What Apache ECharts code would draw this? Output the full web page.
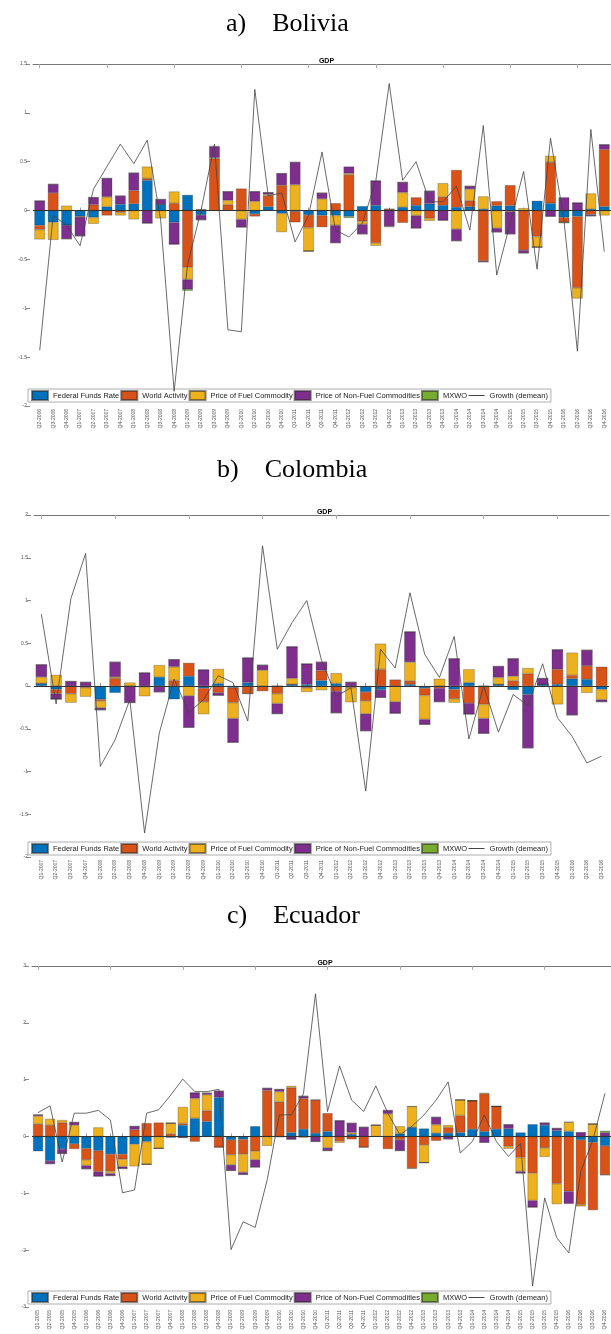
<!DOCTYPE html>
<html>
<head>
<meta charset="utf-8">
<title>GDP historical decomposition</title>
<script src="https://cdn.jsdelivr.net/npm/echarts@6/dist/echarts.min.js"></script>
<style>
  html, body { margin: 0; padding: 0; background: #fff; }
  #chart { width: 611px; height: 1334px; }
</style>
</head>
<body>
<div id="chart"></div>
<script>
// legend / series names
const seriesNames = ['Federal Funds Rate', 'World Activity', 'Price of Fuel Commodity', 'Price of Non-Fuel Commodities', 'MXWO'];
const lineName = 'Growth (demean)';
const barColors = ['#0072BD', '#D95319', '#EDB120', '#7E2F8E', '#77AC30'];

// ---- a) Bolivia ----
const boliviaQuarters = ('Q2-2006 Q3-2006 Q4-2006 Q1-2007 Q2-2007 Q3-2007 Q4-2007 Q1-2008 Q2-2008 Q3-2008 Q4-2008 ' +
  'Q1-2009 Q2-2009 Q3-2009 Q4-2009 Q1-2010 Q2-2010 Q3-2010 Q4-2010 Q1-2011 Q2-2011 Q3-2011 Q4-2011 ' +
  'Q1-2012 Q2-2012 Q3-2012 Q4-2012 Q1-2013 Q2-2013 Q3-2013 Q4-2013 Q1-2014 Q2-2014 Q3-2014 Q4-2014 ' +
  'Q1-2015 Q2-2015 Q3-2015 Q4-2015 Q1-2016 Q2-2016 Q3-2016 Q4-2016').split(' ');
const boliviaFFR = [-0.15, -0.12, -0.15, -0.06, -0.07, 0.04, 0.065, 0.07, 0.31, 0.065, -0.12, 0.16, -0.045, 0, 0, 0, -0.035, 0.04, -0.03, -0.01, -0.045,
  -0.05, -0.05, -0.06, 0.045, 0.055, 0, 0.035, 0.055, 0.07, 0.055, 0.035, 0.04, 0.015, 0.05, 0.05, 0, 0.1, 0.075, -0.07, -0.06, 0.015, 0.04];
const boliviaWorld = [-0.045, 0.18, 0, -0.01, 0.06, -0.05, -0.02, 0.135, 0.02, 0, 0.075, -0.58, 0.01, 0.53, 0.06, 0.225, -0.025, 0.11, 0.26, -0.11, -0.13,
  -0.12, 0.075, 0.365, -0.11, -0.33, 0.015, -0.125, 0.08, -0.08, 0.085, 0.38, 0.06, -0.515, 0.045, 0.21, -0.405, -0.265, 0.42, -0.05, -0.73, -0.04, 0.585];
const boliviaFuel = [-0.1, -0.18, 0.05, 0, -0.065, 0.1, -0.03, -0.09, 0.12, -0.08, 0.12, -0.125, 0, 0.01, 0.045, -0.09, 0.095, 0.015, -0.19, 0.265, -0.24,
  0.12, -0.1, 0.015, -0.03, -0.03, 0, 0.15, -0.05, -0.025, 0.14, -0.19, 0.12, 0.13, -0.18, -0.01, 0.025, -0.11, 0.065, 0, -0.11, 0.16, -0.05];
const boliviaNonFuel = [0.1, 0.09, -0.14, -0.19, 0.075, 0.19, 0.085, 0.18, -0.13, 0.05, -0.225, -0.1, -0.05, 0.115, 0.09, -0.08, 0.1, 0.02, 0.12, 0.23, 0,
  0.06, -0.18, 0.07, -0.1, 0.25, -0.16, 0.105, -0.13, 0.13, -0.1, -0.12, 0.03, -0.01, -0.04, -0.23, -0.03, 0, -0.06, 0.135, 0.08, -0.015, 0.05];
const boliviaMXWO = [0, 0, 0, 0, 0, 0, 0, 0, 0, 0, 0, -0.015, 0, 0.005, 0, 0, 0, 0, 0, 0, 0,
  0, 0, -0.015, 0, 0, -0.01, 0, 0, 0, 0, 0, 0, 0, 0, 0, 0, 0, 0, -0.01, 0, 0, 0];
const boliviaGrowth = [-1.43, -0.05, -0.15, -0.36, 0.22, 0.45, 0.68, 0.48, 0.72, -0.1, -1.85, -0.55, 0, 0.68, -1.22, -1.24, 1.24, 0.15, 0.18, -0.32, -0.05,
  0.6, -0.2, -0.27, -0.13, 0.3, 1.3, 0.31, 0.5, 0.09, 0.09, 0.25, -0.2, 0.87, -0.66, -0.13, 0.4, -0.6, 0.74, -0.1, -1.44, 0.83, -0.42];

// ---- b) Colombia ----
const colombiaQuarters = ('Q1-2007 Q2-2007 Q3-2007 Q4-2007 Q1-2008 Q2-2008 Q3-2008 Q4-2008 Q1-2009 Q2-2009 Q3-2009 Q4-2009 ' +
  'Q1-2010 Q2-2010 Q3-2010 Q4-2010 Q1-2011 Q2-2011 Q3-2011 Q4-2011 Q1-2012 Q2-2012 Q3-2012 Q4-2012 ' +
  'Q1-2013 Q2-2013 Q3-2013 Q4-2013 Q1-2014 Q2-2014 Q3-2014 Q4-2014 Q1-2015 Q2-2015 Q3-2015 Q4-2015 ' +
  'Q1-2016 Q2-2016 Q3-2016').split(' ');
const colombiaFFR = [0.03, -0.04, 0, 0, -0.155, -0.08, 0, 0, 0.105, -0.155, 0.115, -0.025, 0.03, -0.02, 0.04, 0, 0, 0.02, 0.02,
  0.065, 0.03, 0, -0.07, -0.045, 0, 0.02, -0.025, 0, -0.04, 0.04, 0, 0.02, -0.045, -0.1, 0.02, 0.02, 0.085, 0.08, -0.04];
const colombiaWorld = [0, -0.05, -0.09, -0.02, -0.02, 0.09, 0, -0.01, -0.01, 0.065, 0.155, -0.16, -0.08, -0.175, -0.09, -0.06, -0.09, 0, -0.02,
  0.115, -0.06, -0.02, -0.105, 0.195, 0.075, 0.04, -0.085, -0.025, -0.11, -0.2, -0.215, 0, 0.06, 0.145, 0, 0.175, 0.04, 0.155, 0.225];
const colombiaFuel = [0.075, 0.13, -0.105, -0.105, -0.08, 0.015, 0.04, -0.11, 0.14, 0.16, -0.115, -0.145, 0.17, -0.185, 0, 0.185, -0.115, 0.07, -0.05,
  -0.05, 0.12, -0.17, -0.15, 0.3, -0.185, 0.22, -0.28, 0.085, -0.045, 0.155, -0.165, 0.08, 0.055, 0.065, 0, -0.215, 0.265, -0.08, -0.12];
const colombiaNonFuel = [0.145, -0.065, 0.055, 0.045, -0.025, 0.175, -0.195, 0.155, -0.06, 0.085, -0.37, 0.19, -0.03, -0.28, 0.29, 0.06, -0.12, 0.37, 0.24,
  0.1, -0.255, 0.045, -0.2, -0.09, -0.135, 0.355, -0.06, -0.16, 0.32, -0.13, -0.175, 0.13, 0.205, -0.625, 0.07, 0.23, -0.34, 0.185, -0.025];
const colombiaMXWO = [0, 0, 0, 0, 0, 0, 0, 0, 0, 0, 0, 0, 0, 0, 0, 0, 0, 0, 0,
  0, 0, 0, 0, 0, 0, 0, 0, 0, 0, 0, 0, 0, 0, 0, 0, 0, 0, 0, 0];
const colombiaGrowth = [0.84, -0.21, 1.02, 1.55, -0.94, -0.63, -0.16, -1.72, -0.55, 0.08, -0.31, -0.16, 0.12, 0.04, -0.41, 1.64, 0.43, 0.74, 1.0,
  0.3, -0.12, -0.02, -1.23, 0.43, 0.21, 1.09, 0.37, 0.1, 0.58, -0.62, 0, -0.54, -0.1, -0.23, 0.26, -0.37, -0.59, -0.9, -0.82];

// ---- c) Ecuador ----
const ecuadorQuarters = ('Q1-2005 Q2-2005 Q3-2005 Q4-2005 Q1-2006 Q2-2006 Q3-2006 Q4-2006 Q1-2007 Q2-2007 Q3-2007 Q4-2007 ' +
  'Q1-2008 Q2-2008 Q3-2008 Q4-2008 Q1-2009 Q2-2009 Q3-2009 Q4-2009 Q1-2010 Q2-2010 Q3-2010 Q4-2010 ' +
  'Q1-2011 Q2-2011 Q3-2011 Q4-2011 Q1-2012 Q2-2012 Q3-2012 Q4-2012 Q1-2013 Q2-2013 Q3-2013 Q4-2013 ' +
  'Q1-2014 Q2-2014 Q3-2014 Q4-2014 Q1-2015 Q2-2015 Q3-2015 Q4-2015 Q1-2016 Q2-2016 Q3-2016 Q4-2016').split(' ');
const ecuadorFFR = [-0.26, -0.43, -0.22, -0.13, -0.21, -0.25, -0.31, -0.31, -0.135, -0.09, 0, -0.02, 0.2, 0.32, 0.265, 0.69, -0.06, -0.05, 0.18, 0, -0.01, 0.07, 0.13, 0.06,
  0.09, 0, 0.04, 0, 0, 0, 0.05, 0.165, 0.14, 0.06, 0.06, 0.07, 0.13, 0.09, 0.13, 0.135, 0.07, 0.215, 0.2, 0.105, 0.09, -0.06, -0.105, -0.165];
const ecuadorWorld = [0.22, 0.2, 0.245, -0.09, -0.2, -0.37, -0.3, -0.09, 0.12, 0.235, 0.245, 0.045, 0.03, -0.09, 0.19, -0.19, -0.26, -0.26, -0.26, 0.81, 0.61, 0.79, 0.54, 0.585,
  0.32, -0.08, -0.05, -0.19, 0, -0.22, -0.06, -0.555, -0.15, -0.075, 0.1, 0.3, 0.5, 0.66, 0.4, -0.175, -0.37, -0.645, -0.2, -0.83, -0.965, -1.14, -1.19, -0.51];
const ecuadorFuel = [0.14, 0.11, 0.045, 0.2, -0.1, 0.16, -0.04, -0.13, -0.39, -0.4, -0.21, 0.19, 0.29, 0.35, 0.28, 0, -0.18, -0.32, -0.15, -0.165, 0.18, 0.03, -0.02, 0,
  -0.2, -0.03, 0.03, 0, 0.2, 0.4, 0.13, 0.365, -0.31, 0.15, 0.04, 0.275, 0, 0.02, 0, -0.04, -0.245, -0.48, -0.16, -0.36, 0.16, -0.03, 0.22, 0];
const ecuadorNonFuel = [0.02, -0.05, -0.08, 0.05, -0.06, -0.08, -0.04, -0.035, 0.06, 0, 0, 0, -0.02, 0.1, 0.03, 0.11, -0.1, -0.04, -0.13, 0.04, 0.04, -0.05, 0.04, -0.09,
  -0.05, 0.28, 0.165, 0.165, 0, 0.06, -0.19, 0, 0, 0.13, -0.045, 0, 0, -0.105, 0, 0.075, -0.03, -0.12, 0.04, 0.04, -0.22, 0.07, 0, 0.07];
const ecuadorMXWO = [0.01, 0, 0, 0, 0, 0, 0, 0, 0, 0, 0, 0, 0, 0, 0, 0, 0, 0, 0, 0, 0, 0, 0, 0,
  0, 0, 0, 0, 0, 0, 0, -0.015, 0, 0, 0, 0, 0, 0, 0, 0, 0, 0, 0, 0, 0.01, 0, 0, 0.03];
const ecuadorGrowth = [0.42, 0.54, -0.45, 0.41, 0.41, 0.46, 0.29, -0.99, -0.94, 0.41, 0.47, 0.73, 1.01, 0.79, 0.79, 0.83, -1.99, -1.5, -1.6, -0.76, 0.38, 0.38, 0.75, 2.51,
  0.44, 1.24, 0.64, 0.44, 0.89, 0.41, 0.03, 0.18, 0.38, 0.64, 0.96, -0.29, -0.09, 0.38, -0.09, -0.35, -0.12, -2.63, -1.08, -1.78, -2.05, -0.61, -0.06, 0.76];

// panel layout (pixels)
const panels = [
  { title: 'a)    Bolivia', titleLeft: 221, titleTop: 6, cats: boliviaQuarters,
    bars: [boliviaFFR, boliviaWorld, boliviaFuel, boliviaNonFuel, boliviaMXWO], growth: boliviaGrowth,
    min: -2, max: 1.5, interval: 0.5, top: 64, height: 342, left: 33, width: 581, gap: '21%', legendTop: 389 },
  { title: 'b)    Colombia', titleLeft: 212, titleTop: 452, cats: colombiaQuarters,
    bars: [colombiaFFR, colombiaWorld, colombiaFuel, colombiaNonFuel, colombiaMXWO], growth: colombiaGrowth,
    min: -2, max: 2, interval: 0.5, top: 515, height: 342, left: 34, width: 575, gap: '23%', legendTop: 842 },
  { title: 'c)    Ecuador', titleLeft: 222, titleTop: 898, cats: ecuadorQuarters,
    bars: [ecuadorFFR, ecuadorWorld, ecuadorFuel, ecuadorNonFuel, ecuadorMXWO], growth: ecuadorGrowth,
    min: -3, max: 3, interval: 1, top: 966, height: 341, left: 32, width: 580, gap: '17%', legendTop: 1291 }
];

const sans = 'Liberation Sans, Arial, sans-serif';
const option = {
  animation: false,
  backgroundColor: '#fff',
  title: [],
  legend: [],
  grid: [],
  xAxis: [],
  yAxis: [],
  series: []
};

// legend entries: plain rectangles for bars, a bare line for growth
const legendData = seriesNames.map(n => ({ name: n, icon: 'rect' })).concat([{
  name: lineName,
  itemStyle: { color: 'rgba(0,0,0,0)', borderWidth: 0, opacity: 0 },
  lineStyle: { color: '#444', width: 1 }
}]);

panels.forEach((p, i) => {
  option.title.push({
    text: p.title, left: p.titleLeft, top: p.titleTop,
    textStyle: { fontFamily: 'Liberation Serif, Times New Roman, serif', fontSize: 26, fontWeight: 'normal', color: '#000' }
  });
  option.title.push({
    text: 'GDP', left: p.left + p.width / 2 - 2, top: p.top - 11, textAlign: 'center',
    textStyle: { fontFamily: sans, fontSize: 7, fontWeight: 'bold', color: '#000' }
  });
  option.grid.push({ left: p.left, top: p.top, width: p.width, height: p.height });
  option.legend.push({
    left: 28, top: p.legendTop, itemWidth: 16, itemHeight: 9, itemGap: 1,
    padding: [1, 3], borderColor: '#999', borderWidth: 0.8, backgroundColor: '#fff',
    textStyle: { fontFamily: sans, fontSize: 7.5, color: '#222' },
    data: legendData
  });
  // bottom axis with rotated quarter labels
  option.xAxis.push({
    type: 'category', gridIndex: i, data: p.cats, position: 'bottom',
    axisLine: { show: false },
    axisTick: { show: true, inside: true, length: 3, alignWithLabel: true, lineStyle: { color: '#999' } },
    axisLabel: { interval: 0, rotate: 90, fontSize: 5, color: '#555', fontFamily: sans, margin: 3 }
  });
  // top box line
  option.xAxis.push({
    type: 'category', gridIndex: i, data: p.cats, position: 'top',
    axisLine: { show: true, lineStyle: { color: '#777', width: 1 } },
    axisTick: { show: true, inside: true, length: 4, alignWithLabel: true, lineStyle: { color: '#aaa' } },
    axisLabel: { show: false }
  });
  option.yAxis.push({
    type: 'value', gridIndex: i, min: p.min, max: p.max, interval: p.interval, offset: 3,
    axisLine: { show: false },
    axisTick: { show: true, length: 4, lineStyle: { color: '#888' } },
    axisLabel: { fontSize: 5, color: '#555', fontFamily: sans, margin: 3 },
    splitLine: { show: false }
  });
  seriesNames.forEach((name, k) => {
    option.series.push({
      name: name, type: 'bar', stack: 'gdp' + i,
      xAxisIndex: i * 2, yAxisIndex: i,
      barCategoryGap: p.gap,
      itemStyle: { color: barColors[k], borderColor: 'rgba(40,40,40,0.55)', borderWidth: 0.5 },
      data: p.bars[k]
    });
  });
  option.series.push({
    name: lineName, type: 'line', xAxisIndex: i * 2, yAxisIndex: i,
    symbol: 'none', z: 5,
    lineStyle: { color: '#444', width: 0.8 },
    itemStyle: { color: '#444' },
    markLine: {
      silent: true, symbol: 'none', label: { show: false },
      lineStyle: { color: '#333', width: 1, type: 'solid' },
      data: [{ yAxis: 0 }]
    },
    data: p.growth
  });
});

const chart = echarts.init(document.getElementById('chart'));
chart.setOption(option);
</script>
</body>
</html>
